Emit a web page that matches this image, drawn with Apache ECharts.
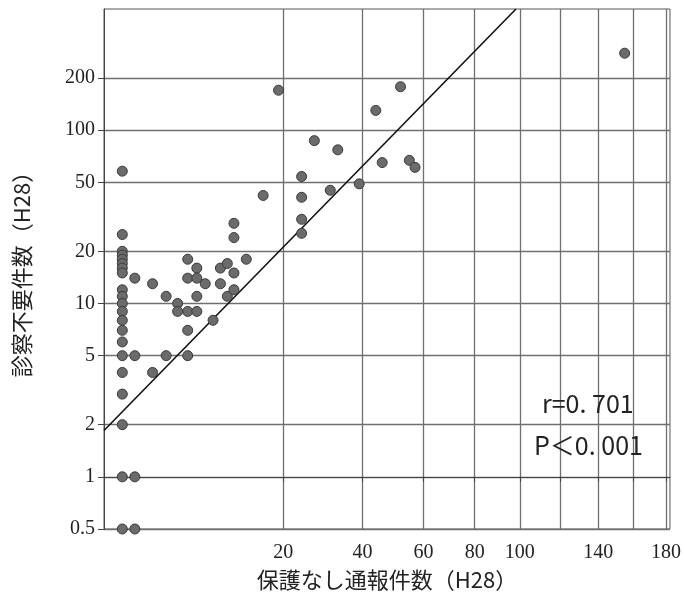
<!DOCTYPE html>
<html>
<head>
<meta charset="utf-8">
<script src="https://cdn.jsdelivr.net/npm/echarts@6/dist/echarts.min.js"></script>
<style>
html,body{margin:0;padding:0;background:#fff;}
#chart{width:684px;height:598px;}
</style>
</head>
<body>
<div id="chart"></div>
<script>
// ---- data (x = 保護なし通報件数, y = 診察不要件数); zero counts are plotted at 0.5 ----
const pointX = [
  0.5,0.5,0.5,0.5,0.5,0.5,0.5,0.5,0.5,0.5,0.5,0.5,0.5,0.5,0.5,0.5,0.5,0.5,0.5,0.5,0.5,
  1,1,1,1,
  2,2,
  3,3,
  4,4,
  5,5,5,5,5,
  6,6,6,6,
  7,
  8,
  9,9,
  10,10,
  11,11,11,11,
  13,
  16,
  19,
  24,24,24,24,
  27,
  31,
  33,
  39,
  44,
  46,
  52,
  55,
  57,
  155
];
const pointY = [
  58,25,20,19,18,17,16,15,12,11,10,9,8,7,6,5,4,3,2,1,0.5,
  14,5,1,0.5,
  13,4,
  11,5,
  10,9,
  18,14,9,7,5,
  16,14,11,9,
  13,
  8,
  16,13,
  17,11,
  15,12,29,24,
  18,
  42,
  170,
  54,41,30.6,25.4,
  87,
  45,
  77,
  49,
  130,
  65,
  178,
  67,
  61,
  278
];
// regression line end points
const fitX = [0.078, 98.2];
const fitY = [1.85, 500];

// axis ticks
const xTickValues = [20, 40, 60, 80, 100, 120, 140, 160, 180];
const xLabelValues = [20, 40, 60, 80, 100, 140, 180];
const yTickValues = [0.5, 1, 2, 5, 10, 20, 50, 100, 200];
const xRange = [0.078, 182.5];
const yRange = [0.5, 500];

const xAxisName = '保護なし通報件数（H28）';
const yAxisName = '診察不要件数（H28）';
const statLines = ['r=0. 701', 'P＜0. 001'];

// ---- transforms: x is on a square-root scale, y on a log10 scale ----
const tx = v => Math.sqrt(v);
const ty = v => Math.log10(v);
const fmtNum = v => String(Math.round(v * 1000) / 1000);

const scatterData = pointX.map((x, i) => [tx(x), ty(pointY[i])]);
const fitData = fitX.map((x, i) => [tx(x), ty(fitY[i])]);

const chart = echarts.init(document.getElementById('chart'), null, {renderer: 'canvas'});
const serif = '"Liberation Serif", "DejaVu Serif", serif';
const cjk = '"Noto Sans CJK JP", "Noto Sans", sans-serif';

chart.setOption({
  animation: false,
  backgroundColor: '#fff',
  grid: {left: 104, right: 12, top: 9, bottom: 69, show: true, borderColor: '#555', borderWidth: 1},
  xAxis: {
    type: 'value',
    min: tx(xRange[0]),
    max: tx(xRange[1]),
    name: xAxisName,
    nameLocation: 'middle',
    nameGap: 40,
    nameTextStyle: {fontFamily: cjk, fontSize: 22, color: '#222'},
    axisLine: {show: true, lineStyle: {color: '#444', width: 1}},
    axisTick: {show: true, length: 5, lineStyle: {color: '#444'}, customValues: xTickValues.map(tx)},
    axisLabel: {
      customValues: xLabelValues.map(tx),
      margin: 14,
      fontFamily: serif, fontSize: 20, color: '#222',
      formatter: v => fmtNum(v * v)
    },
    splitLine: {show: true, lineStyle: {color: '#6f6f6f', width: 1.3}}
  },
  yAxis: {
    type: 'value',
    min: ty(yRange[0]),
    max: ty(yRange[1]),
    name: yAxisName,
    nameLocation: 'middle',
    nameGap: 71,
    nameRotate: 90,
    nameTextStyle: {fontFamily: cjk, fontSize: 22, color: '#222'},
    axisLine: {show: true, lineStyle: {color: '#444', width: 1}},
    axisTick: {show: true, length: 6, lineStyle: {color: '#444'}, customValues: yTickValues.map(ty)},
    axisLabel: {
      customValues: yTickValues.map(ty),
      margin: 9,
      fontFamily: serif, fontSize: 20, color: '#222',
      formatter: v => fmtNum(Math.pow(10, v))
    },
    splitLine: {show: true, lineStyle: {color: '#6f6f6f', width: 1.3}}
  },
  series: [
    {
      type: 'line',
      data: fitData,
      symbol: 'none',
      clip: true,
      lineStyle: {color: '#111', width: 1.6},
      z: 3
    },
    {
      type: 'scatter',
      data: scatterData,
      symbol: 'circle',
      symbolSize: 10,
      itemStyle: {color: '#6b6b6b', borderColor: '#3a3a3a', borderWidth: 1, opacity: 1},
      z: 4
    }
  ],
  graphic: [
    {
      type: 'text', left: 542, top: 391, z: 10,
      style: {text: statLines[0], fontFamily: cjk, fontSize: 25, fill: '#222'}
    },
    {
      type: 'text', left: 534, top: 433, z: 10,
      style: {text: statLines[1], fontFamily: cjk, fontSize: 25, fill: '#222'}
    }
  ]
});
</script>
</body>
</html>
